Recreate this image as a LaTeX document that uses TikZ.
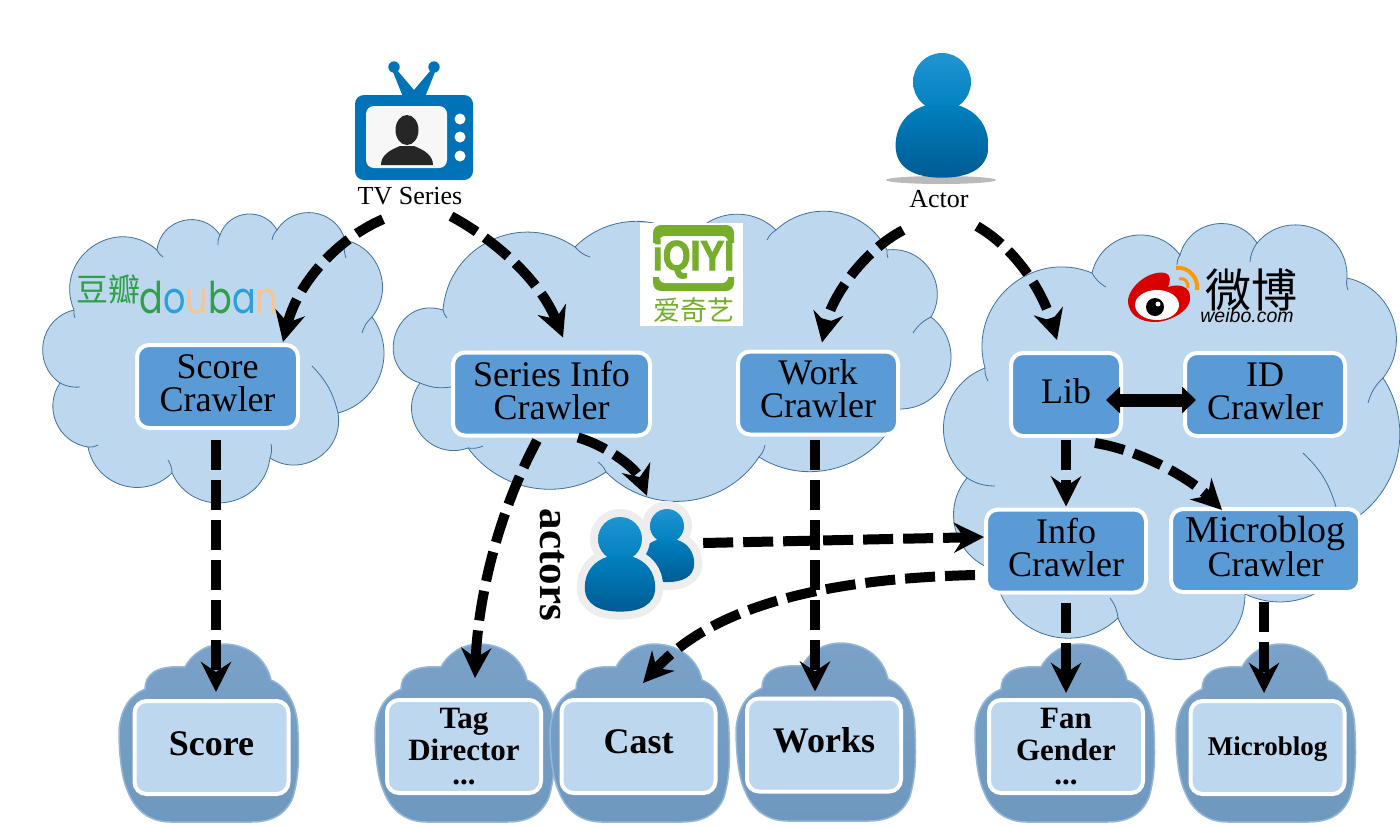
\documentclass[tikz,border=0pt]{standalone}
\usepackage{fontspec}
\setmainfont{Liberation Serif}
\newfontfamily\cjkFont{Noto Sans CJK SC}
\newfontfamily\logoFont{Poppins}
\newfontfamily\arialFont{Liberation Sans}
\newfontfamily\iqiyiFont[FakeBold=2.5]{Liberation Sans Bold}
\usetikzlibrary{arrows.meta}
\definecolor{cloudBlue}{HTML}{BDD7EE}
\definecolor{cloudLine}{HTML}{41719C}
\definecolor{crawlerBlue}{HTML}{5B9BD5}
\definecolor{darkCloudTop}{HTML}{7AA2C8}
\definecolor{darkCloudLow}{HTML}{6F98BF}
\definecolor{tvBlue}{HTML}{0072B8}
\definecolor{iqiyiGreen}{HTML}{76AE2B}
\definecolor{doubanGreen}{HTML}{2F9F48}
\definecolor{doubanBlue}{HTML}{2BA0D8}
\definecolor{doubanPeach}{HTML}{F6C594}
\newcommand{\personBodyPath}{(-5.5,8) .. controls (-12,10) and (-16,15) .. (-16,22) .. controls (-16,30) and (-9,33) .. (0,33)
      .. controls (9,33) and (16,30) .. (16,22) .. controls (16,15) and (12,10) .. (5.5,8) -- cycle}
\tikzset{
  cloudShape/.style={fill=cloudBlue, draw=cloudLine, line width=.8pt},
  cloudEdge/.style={draw=cloudLine, line width=.8pt},
  liftText/.style={execute at end node={\rule[-#1]{0pt}{0pt}}},
  dropText/.style={execute at begin node={\rule{0pt}{#1}}},
  crawlerBox/.style={rectangle, rounded corners=12pt, fill=crawlerBlue, draw=white, line width=4pt,
    inner sep=0pt, align=center, minimum height=83pt, font=\fontsize{36}{33}\selectfont, liftText=7pt},
  dataBox/.style={rectangle, rounded corners=12pt, fill=cloudBlue, draw=white, line width=4pt,
    inner sep=0pt, align=center, minimum width=154pt, minimum height=93pt},
  flowArrow/.style={line width=10pt, dash pattern=on 30pt off 10pt, -{Stealth[length=30pt,width=30pt,inset=10pt]}},
  bothArrow/.style={line width=13pt, {Stealth[length=14pt,width=26pt,inset=0pt]}-{Stealth[length=14pt,width=26pt,inset=0pt]}},
  dataCloud/.pic={
    \path[top color=darkCloudTop, bottom color=darkCloudLow, draw=darkCloudTop!60!cloudBlue, line width=1.5pt]
      (-90,-17) .. controls (-88,-40) and (-78,-52) .. (-64,-58) .. controls (-64,-72) and (-54,-82) .. (-24,-80)
      .. controls (-16,-95) and (-1,-103) .. (14,-103) .. controls (37,-103) and (57,-90) .. (62,-67)
      .. controls (79,-60) and (89,-40) .. (89,-15) .. controls (90,10) and (90,30) .. (84,50)
      .. controls (77,68) and (62,75) .. (42,75) -- (-38,75) .. controls (-58,75) and (-73,65) .. (-81,45)
      .. controls (-88,30) and (-90,5) .. (-90,-17) -- cycle;
  },
  personIcon/.pic={
    \path[top color=doubanBlue!75!tvBlue, bottom color=tvBlue!90!cyan] (0,0) circle (10);
    \path[top color=tvBlue!90!cyan, bottom color=tvBlue!80!black] \personBodyPath;
  },
  haloIcon/.pic={
    \path[fill=black!7, draw=black!7, line width=16pt, line join=round] (0,0) circle (10) \personBodyPath;
  }
}
\begin{document}
\begin{tikzpicture}[x=1pt, y=-1pt]
  \useasboundingbox (0,0) rectangle (1400,825);
  % three clouds
  \path[cloudShape] (74,310) \foreach \x/\y/\b [evaluate=\b as \l using .851/(cos(\b/2)^2)] in {157/250/77, 220/235/70, 277/230/66,
      345/240/66, 372/317/58, 338/413/56, 270/458/66, 172/473/74, 88/447/62, 60/383/58, 74/310/66}
      { to[bend left=\b, looseness=\l] (\x,\y) } -- cycle;
  \path[cloudShape] (420,383) \foreach \x/\y/\b [evaluate=\b as \l using .851/(cos(\b/2)^2)] in {443/310/90, 575/247/60, 690/240/42,
      776/230/51, 887/250/53, 931/317/64, 900/409/71, 759/457/51, 606/472/51, 468/448/44, 420/383/73}
      { to[bend left=\b, looseness=\l] (\x,\y) } -- cycle;
  \path[cloudShape] (967,478) \foreach \x/\y/\b [evaluate=\b as \l using .851/(cos(\b/2)^2)] in {985/368/60, 1092/273/64, 1180/255/65,
      1257/243/66, 1347/278/71, 1383/378/58, 1360/515/43, 1245/594/60, 1118/618/79, 995/570/65, 967/478/57}
      { to[bend left=\b, looseness=\l] (\x,\y) } -- cycle;
  \path[cloudEdge] \foreach \a/\b/\c/\d in {74/310/75/318, 157/250/163/257, 220/235/218/245, 277/230/272/240, 345/240/346/258,
      372/317/362/333, 338/413/312/366, 270/458/271/444, 172/473/168/460, 88/447/98/445, 60/383/80/387,
      443/310/447/318, 575/247/590/257, 776/230/767/240, 887/250/888/258, 931/317/913/333, 759/457/765/445,
      606/472/598/462, 468/448/483/446, 420/383/451/387,
      985/368/988/381, 1092/273/1106/287, 1180/255/1177/265, 1257/243/1250/262, 1347/278/1348/290,
      1383/378/1368/403, 1336/507/1303/453, 1118/618/1110/598, 967/478/995/486} { (\a,\b) to[bend right=15] (\c,\d) };
  % dark clouds behind the result boxes
  \pic at (209,747) {dataCloud};
  \pic at (465,747) {dataCloud};
  \pic at (640,747) {dataCloud};
  \pic at (826,746) {dataCloud};
  \pic at (1065,747) {dataCloud};
  \pic at (1266,747) {dataCloud};
  % crawlers
  \node[crawlerBox, minimum width=161pt] (scoreCrawler) at (217.5,386.5) {Score\\Crawler};
  \node[crawlerBox, minimum width=197pt] (seriesCrawler) at (551.5,394) {Series Info\\Crawler};
  \node[crawlerBox, minimum width=160pt, liftText=8pt] (workCrawler) at (818,393) {Work\\Crawler};
  \node[crawlerBox, minimum width=110pt] (libCrawler) at (1066,394.5) {Lib};
  \node[crawlerBox, minimum width=160pt] (idCrawler) at (1265,394.5) {ID\\Crawler};
  \node[crawlerBox, minimum width=160pt] (infoCrawler) at (1066,551) {Info\\Crawler};
  \node[crawlerBox, minimum width=189pt, liftText=8pt] (microCrawler) at (1265.5,550.5) {\fontsize{38}{33}\selectfont Microblog\\Crawler};
  % results
  \node[dataBox, liftText=8pt, font=\bfseries\fontsize{36}{36}\selectfont] (scoreData) at (211.5,747.5) {Score};
  \node[dataBox, dropText=29pt, font=\bfseries\fontsize{31}{32}\selectfont] (tagData) at (464,746.5) {Tag\\Director\\[-8pt]...};
  \node[dataBox, liftText=10pt, font=\bfseries\fontsize{36}{36}\selectfont] (castData) at (638.5,746.5) {Cast};
  \node[dataBox, liftText=10pt, font=\bfseries\fontsize{36}{36}\selectfont] (worksData) at (824,745) {Works};
  \node[dataBox, dropText=29pt, font=\bfseries\fontsize{31}{32}\selectfont] (fanData) at (1066,746.5) {Fan\\Gender\\[-8pt]...};
  \node[dataBox, dropText=22pt, font=\bfseries\fontsize{27}{30}\selectfont] (microData) at (1267.5,747.5) {Microblog};
  % TV icon
  \fill[tvBlue] (393,72) -- (397,70) -- (414,90) -- (431,70) -- (435,72) -- (425,97) -- (403,97) -- cycle;
  \fill[tvBlue] (394,67) circle (5.7) (434,67) circle (5.7);
  \fill[tvBlue, rounded corners=9pt] (355,95) rectangle (473,180);
  \fill[black!3, rounded corners=8pt] (366,106) rectangle (447,168);
  \fill[white] (460,119) circle (5.5) (460,137) circle (5.5) (460,156) circle (5.5);
  \fill[black!85] (407,130) ellipse (11.5 and 15);
  \fill[black!85] (381,165) .. controls (381,155) and (390,150) .. (400,146) -- (414,146)
    .. controls (424,150) and (433,155) .. (433,165) -- cycle;
  \node[inner sep=0pt, minimum width=106pt, minimum height=30pt, font=\fontsize{26}{26}\selectfont] (tvLabel) at (410,196) {TV Series};
  % actor icon
  \fill[black!45, opacity=.6] (941,180) ellipse (55 and 4);
  \pic[scale=2.9] at (942,82) {personIcon};
  \node[inner sep=0pt, minimum width=64pt, minimum height=26pt, font=\fontsize{26}{26}\selectfont] (actorLabel) at (939,199) {Actor};
  % actors icon
  \pic[scale=1.7] at (667,526) {haloIcon};
  \pic[scale=1.7] at (667,526) {personIcon};
  \pic[scale=2.2] at (620,539) {haloIcon};
  \pic[scale=2.2] at (620,539) {personIcon};
  \node[inner sep=0pt, minimum width=125pt, minimum height=114pt] (actorsIcon) at (640.5,565) {};
  \node[rotate=-90, inner sep=0pt, font=\bfseries\fontsize{43}{43}\selectfont] (actorsLabel) at (552.5,565) {actors};
  % logos
  \node[inner sep=0pt, font=\cjkFont\fontsize{32}{32}\selectfont, text=doubanGreen] (doubanHan) at (108.5,289) {豆瓣};
  \node[inner sep=0pt, yscale=1.25, font=\logoFont\fontsize{35}{35}\selectfont] (doubanLogo) at (209,298)
    {\textcolor{doubanGreen}{d}\textcolor{doubanBlue}{o}\textcolor{doubanPeach}{u}\textcolor{doubanGreen}{b}\textcolor{doubanBlue}{a}\textcolor{doubanPeach}{n}};
  \fill[white] (640,223) rectangle (743,326);
  \fill[iqiyiGreen, rounded corners=8pt] (653,225) rectangle (734,291);
  \fill[white, rounded corners=6pt] (659,236) rectangle (728,283);
  \fill[white] (650,243) rectangle (737,277);
  \node[inner sep=0pt, xscale=.85, text=iqiyiGreen, font=\iqiyiFont\fontsize{42}{42}\selectfont] (iqiyiLogo) at (693.5,259) {iQIYI};
  \node[inner sep=0pt, text=iqiyiGreen, font=\cjkFont\fontsize{27}{27}\selectfont] (iqiyiHan) at (693.5,310) {爱奇艺};
  \fill[red!85!black] (1128,300) .. controls (1130,285) and (1150,270) .. (1165,273) .. controls (1172,275) and (1170,283) .. (1168,287)
    .. controls (1180,283) and (1190,287) .. (1190,297) .. controls (1192,310) and (1170,322) .. (1155,322) .. controls (1140,322) and (1128,315) .. (1128,300) -- cycle;
  \fill[white] (1157,305) ellipse (22 and 15);
  \fill[black] (1155,307) circle (9);
  \fill[white] (1158,304) circle (2.5);
  \draw[orange!80!yellow, line width=4pt] (1176,268) .. controls (1188,266) and (1199,278) .. (1197,290);
  \draw[orange!80!yellow, line width=3pt] (1179,279) .. controls (1184,277) and (1189,282) .. (1188,288);
  \node[inner sep=0pt, font=\cjkFont\fontsize{46}{46}\selectfont] (weiboHan) at (1251,290) {微博};
  \node[inner sep=0pt, font=\arialFont\itshape\fontsize{19.5}{20}\selectfont] (weiboLogo) at (1247,316) {weibo.com};
  % connectors
  \draw[flowArrow] ([shift={(-27,8)}]tvLabel.south) .. controls (335,240) and (297,285) .. ([shift={(65.5,-1)}]scoreCrawler.north);
  \draw[flowArrow] ([shift={(41,5)}]tvLabel.south) .. controls (495,240) and (540,280) .. ([shift={(11.5,-13)}]seriesCrawler.north);
  \draw[flowArrow] ([shift={(-36,18)}]actorLabel.south) .. controls (865,250) and (832,295) .. ([shift={(4,-7)}]workCrawler.north);
  \draw[flowArrow] ([shift={(38,14)}]actorLabel.south) .. controls (1015,248) and (1042,290) .. ([shift={(-9,-11)}]libCrawler.north);
  \draw[bothArrow] ([shift={(-17,5.5)}]libCrawler.east) -- ([shift={(13,5.5)}]idCrawler.west);
  \draw[flowArrow] ([shift={(0,2)}]libCrawler.south) -- ([shift={(0,-1)}]infoCrawler.north);
  \draw[flowArrow] ([shift={(29,5)}]libCrawler.south) .. controls (1140,450) and (1190,478) .. ([shift={(-43.5,3)}]microCrawler.north);
  \draw[flowArrow] ([shift={(26.5,0)}]seriesCrawler.south) .. controls (610,447) and (637,470) .. ([shift={(6.5,-12)}]actorsIcon.north);
  \draw[flowArrow] ([shift={(-14.5,3)}]seriesCrawler.south) .. controls (497,515) and (478,600) .. ([shift={(11,-20)}]tagData.north);
  \draw[flowArrow] ([shift={(-3,3)}]workCrawler.south) -- ([shift={(-9,-5)}]worksData.north);
  \draw[flowArrow] ([shift={(-1.5,10)}]scoreCrawler.south) -- ([shift={(4.5,-7)}]scoreData.north);
  \draw[flowArrow] ([shift={(0,-22)}]actorsIcon.east) -- ([shift={(0,-14)}]infoCrawler.west);
  \draw[flowArrow] ([shift={(-9,24)}]infoCrawler.west) .. controls (850,578) and (720,598) .. ([shift={(4.5,-15)}]castData.north);
  \draw[flowArrow] ([shift={(0,8)}]infoCrawler.south) -- ([shift={(0,-5)}]fanData.north);
  \draw[flowArrow] ([shift={(-1.5,8)}]microCrawler.south) -- ([shift={(-3.5,-6)}]microData.north);
\end{tikzpicture}
\end{document}
